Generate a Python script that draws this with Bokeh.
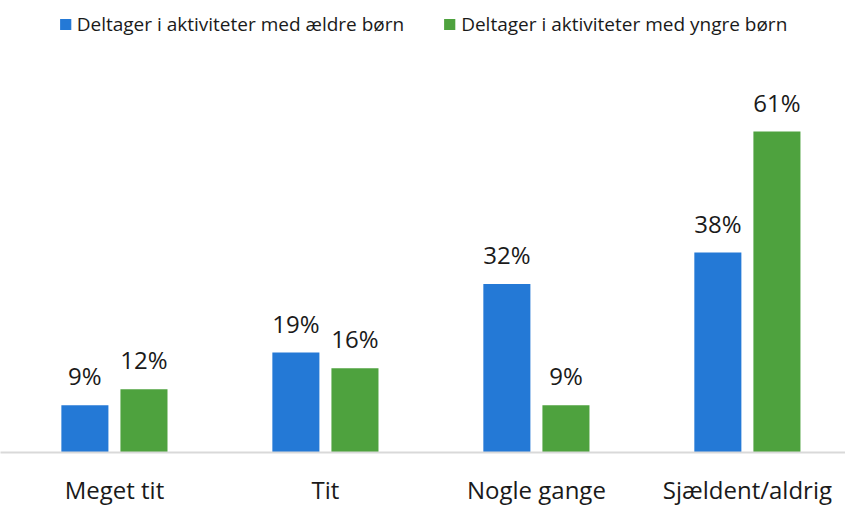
from bokeh.plotting import figure
from bokeh.models import ColumnDataSource, Legend, LegendItem, FixedTicker, Range1d
from bokeh.core.properties import value
from bokeh.embed import file_html
from bokeh.resources import INLINE

categories = ["Meget tit", "Tit", "Nogle gange", "Sjældent/aldrig"]
series_names = ["Deltager i aktiviteter med ældre børn", "Deltager i aktiviteter med yngre børn"]
older = [9, 19, 32, 38]
younger = [12, 16, 9, 61]
colors = ["#2479d6", "#4ea23e"]

xs = list(range(len(categories)))
off = 0.14
bw = 0.223

p = figure(width=845, height=508, output_backend="svg", toolbar_location=None,
           x_range=Range1d(-0.540, 3.465), y_range=Range1d(0, 85.9),
           min_border_left=0, min_border_right=0, min_border_top=0, min_border_bottom=0)
p.outline_line_color = None
p.grid.grid_line_color = None
p.yaxis.visible = False

src_o = ColumnDataSource(dict(x=[x - off for x in xs], y=older, lab=[f"{v}%" for v in older]))
src_y = ColumnDataSource(dict(x=[x + off for x in xs], y=younger, lab=[f"{v}%" for v in younger]))

r1 = p.vbar(x="x", top="y", width=bw, source=src_o, fill_color=colors[0], line_color=None)
r2 = p.vbar(x="x", top="y", width=bw, source=src_y, fill_color=colors[1], line_color=None)

for s in (src_o, src_y):
    p.text(x="x", y="y", text="lab", source=s, text_align="center", text_baseline="bottom",
           y_offset=-13, text_font=value("Open Sans"), text_font_size="24px", text_color="#1a1a1a")

ax = p.xaxis[0]
ax.ticker = FixedTicker(ticks=xs)
ax.major_label_overrides = {i: c for i, c in enumerate(categories)}
ax.major_tick_line_color = None
ax.minor_tick_line_color = None
ax.axis_line_color = "#d9d9d9"
ax.axis_line_width = 2
ax.major_label_standoff = 14
ax.major_label_text_font = "Open Sans"
ax.major_label_text_font_size = "24px"
ax.major_label_text_color = "#1a1a1a"

legend = Legend(items=[LegendItem(label=series_names[0], renderers=[r1]),
                       LegendItem(label=series_names[1], renderers=[r2])],
                location="top_center", orientation="horizontal",
                glyph_width=14, glyph_height=14, spacing=38, label_standoff=5,
                label_text_font="Open Sans", label_text_font_size="19px", label_text_color="#1a1a1a",
                border_line_color=None, background_fill_alpha=0, padding=0, margin=11)
p.add_layout(legend)

open("out.html", "w").write(file_html(p, INLINE))
